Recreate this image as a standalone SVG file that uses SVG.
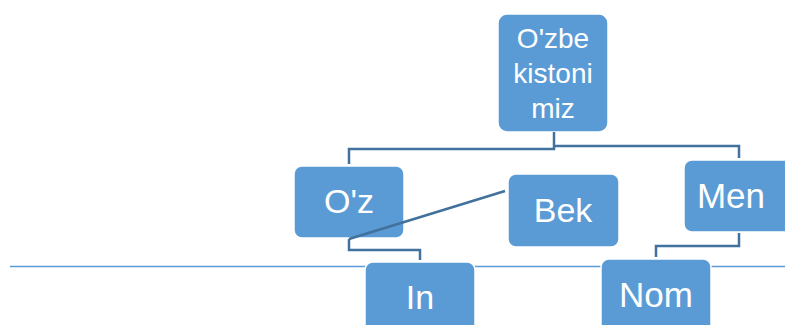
<svg xmlns="http://www.w3.org/2000/svg" width="785" height="325" viewBox="0 0 785 325">
<style>
.node rect{fill:#5B9BD5;stroke:#ffffff;stroke-width:1.5}
.node text{fill:#ffffff;font-family:"Liberation Sans",Arial,sans-serif;text-anchor:middle}
.conn{fill:none;stroke:#41719C;stroke-width:2.5}
.rule{stroke:#5B9BD5;stroke-width:1.5}
</style>
<line class="rule" x1="10" y1="266.5" x2="785" y2="266.5"/>
<g id="n-top" class="node"><rect x="498" y="14" width="110" height="118" rx="9"/>
<text font-size="28"><tspan x="553" y="48">O'zbe</tspan><tspan x="553" y="83">kistoni</tspan><tspan x="553" y="118">miz</tspan></text></g>
<g id="n-oz" class="node"><rect x="294" y="166" width="110" height="72" rx="8"/><text x="349" y="213" font-size="34">O'z</text></g>
<g id="n-bek" class="node"><rect x="508" y="174" width="111" height="73" rx="8"/><text x="563" y="222" font-size="34">Bek</text></g>
<g id="n-men" class="node"><rect x="684" y="160" width="110" height="72" rx="8"/><text x="731" y="208" font-size="35">Men</text></g>
<g id="n-in" class="node"><rect x="365" y="262" width="110" height="80" rx="8"/><text x="420" y="309" font-size="34">In</text></g>
<g id="n-nom" class="node"><rect x="601" y="259" width="110" height="80" rx="8"/><text x="656" y="307" font-size="35">Nom</text></g>
<g id="connectors">
<polyline class="conn" points="554,132 554,149 349,149 349,164"/>
<polyline class="conn" points="554,146 739,146 739,158"/>
<line class="conn" x1="505" y1="191" x2="349" y2="239" stroke-width="2"/>
<polyline class="conn" points="349,239 349,250 420,250 420,260"/>
<polyline class="conn" points="739,233 739,246 656,246 656,257"/>
</g>
</svg>
